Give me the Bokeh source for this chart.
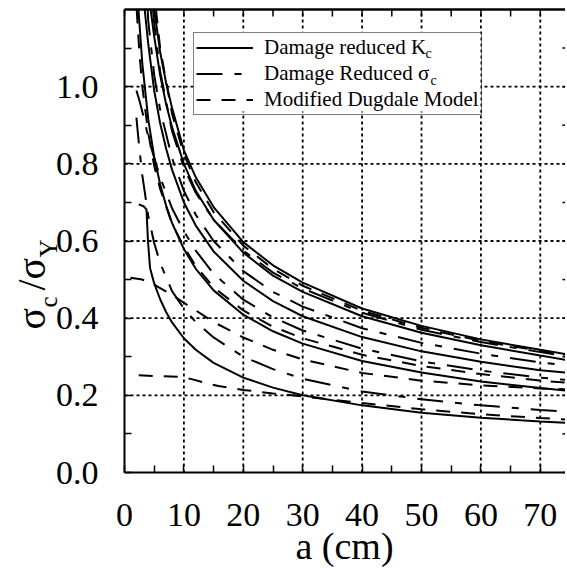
from bokeh.plotting import figure
from bokeh.models import (FixedTicker, PrintfTickFormatter, Legend, LegendItem,
                          Label, Range1d, LinearAxis, BoxAnnotation)
from bokeh.embed import file_html
from bokeh.resources import INLINE

# ---------------- data ----------------
Y_END = 1.2
X_TICKS = [0, 10, 20, 30, 40, 50, 60, 70]
X_MINOR = [5, 15, 25, 35, 45, 55, 65]
Y_TICKS = [0.0, 0.2, 0.4, 0.6, 0.8, 1.0]
Y_MINOR = [0.1, 0.3, 0.5, 0.7, 0.9, 1.1]

# Damage reduced Kc (solid)
kc_a_x = [5.0, 6, 7, 8, 10, 12, 15, 20, 25, 30, 40, 50, 60, 70, 75]
kc_a_y = [1.20, 1.09, 1.01, 0.945, 0.835, 0.765, 0.688, 0.597, 0.537, 0.492, 0.425, 0.38, 0.345, 0.318, 0.305]
kc_b_x = [4.4, 5, 6, 7, 8, 10, 12, 15, 20, 25, 30, 40, 50, 60, 70, 75]
kc_b_y = [1.20, 1.13, 1.03, 0.955, 0.895, 0.80, 0.73, 0.655, 0.57, 0.51, 0.468, 0.405, 0.362, 0.33, 0.303, 0.29]
kc_c_x = [3.4, 4, 5, 6, 7, 8, 10, 12, 15, 20, 25, 30, 40, 50, 60, 70, 75]
kc_c_y = [1.20, 1.11, 0.99, 0.905, 0.84, 0.785, 0.70, 0.64, 0.573, 0.497, 0.444, 0.405, 0.351, 0.314, 0.287, 0.265, 0.258]
kc_d_x = [2.35, 3, 4, 5, 6, 7, 8, 10, 12, 15, 20, 25, 30, 40, 50, 60, 70, 75]
kc_d_y = [1.20, 1.06, 0.915, 0.818, 0.747, 0.692, 0.647, 0.579, 0.528, 0.472, 0.409, 0.366, 0.334, 0.289, 0.259, 0.236, 0.219, 0.211]
kc_e_x = [2.4, 3.2, 3.7, 3.95, 4.3, 5, 6, 7, 8, 10, 12, 15, 20, 25, 30, 40, 50, 60, 70, 75]
kc_e_y = [0.695, 0.69, 0.682, 0.60, 0.53, 0.49, 0.449, 0.416, 0.389, 0.348, 0.318, 0.284, 0.246, 0.22, 0.20, 0.174, 0.155, 0.142, 0.132, 0.128]

# Damage Reduced sigma_c (long-short dash)
sc_a_x = [4.8, 5, 6, 8, 10, 12, 15, 20, 25, 30, 40, 50, 60, 70, 75]
sc_a_y = [1.20, 1.165, 1.04, 0.885, 0.79, 0.725, 0.655, 0.575, 0.518, 0.477, 0.414, 0.37, 0.338, 0.312, 0.30]
sc_b_x = [3.9, 4, 5, 6, 8, 10, 12, 15, 20, 25, 30, 40, 50, 60, 70, 75]
sc_b_y = [1.20, 1.17, 1.03, 0.94, 0.815, 0.73, 0.668, 0.60, 0.522, 0.468, 0.43, 0.374, 0.336, 0.308, 0.285, 0.277]
sc_c_x = [2.0, 2.5, 3, 4, 5, 6, 8, 10, 12, 15, 20, 25, 30, 40, 50, 60, 70, 75]
sc_c_y = [0.99, 0.965, 0.935, 0.87, 0.815, 0.765, 0.685, 0.625, 0.575, 0.515, 0.448, 0.402, 0.368, 0.321, 0.288, 0.264, 0.246, 0.239]
sc_d_x = [2.0, 2.5, 3, 4, 5, 6, 8, 10, 12, 15, 20, 25, 30, 40, 50, 60, 70, 75]
sc_d_y = [0.92, 0.84, 0.77, 0.665, 0.595, 0.543, 0.47, 0.425, 0.39, 0.35, 0.30, 0.268, 0.243, 0.21, 0.19, 0.174, 0.162, 0.157]

# Modified Dugdale Model (dashed)
md_a_x = [5.3, 6, 8, 10, 12, 15, 20, 25, 30, 40, 50, 60, 70, 75]
md_a_y = [1.20, 1.10, 0.93, 0.825, 0.752, 0.675, 0.588, 0.528, 0.484, 0.419, 0.375, 0.341, 0.315, 0.303]
md_b_x = [2.05, 2.5, 3, 4, 5, 6, 8, 10, 12, 15, 20, 25, 30, 40, 50, 60, 70, 75]
md_b_y = [1.20, 1.09, 1.0, 0.88, 0.795, 0.735, 0.645, 0.585, 0.535, 0.48, 0.42, 0.378, 0.348, 0.305, 0.276, 0.255, 0.238, 0.232]
md_c_x = [1.0, 3, 4.4, 6, 8, 10, 12, 15, 20, 25, 30, 40, 50, 60, 70, 75]
md_c_y = [0.505, 0.50, 0.492, 0.478, 0.46, 0.44, 0.42, 0.39, 0.35, 0.318, 0.293, 0.258, 0.238, 0.226, 0.218, 0.215]
md_d_x = [2.4, 5, 9.4, 11.3, 13.5, 15.8, 20, 25, 30, 40, 50, 60, 70, 75]
md_d_y = [0.252, 0.25, 0.248, 0.242, 0.233, 0.224, 0.214, 0.205, 0.197, 0.18, 0.164, 0.151, 0.141, 0.137]

LEGEND_LABELS = ["Damage reduced K", "Damage Reduced \u03c3", "Modified Dugdale Model"]
LEGEND_SUBS = ["c", "c"]
X_TITLE = "a (cm)"
Y_TITLE = [("\u03c3", "main"), ("c", "sub"), ("/\u03c3", "main"), ("Y", "sub")]

# ---------------- layout constants (pixels -> data mapping) ----------------
PX_X = 5.94          # px per x unit
PX_Y = 385.83        # px per y unit
W, H = 565, 568
X_LO = -124 / PX_X
X_HI = X_LO + W / PX_X
Y_HI = 472 / PX_Y
Y_LO = Y_HI - H / PX_Y
X_EDGE = 74.9        # where the original frame's right edge sits

SERIF = "Liberation Serif"
p = figure(width=W, height=H, x_range=Range1d(X_LO, X_HI), y_range=Range1d(Y_LO, Y_HI),
           x_axis_type=None, y_axis_type=None, output_backend="svg",
           toolbar_location=None, min_border=0)
p.outline_line_color = None

xt = FixedTicker(ticks=X_TICKS, minor_ticks=X_MINOR)
yt = FixedTicker(ticks=Y_TICKS, minor_ticks=Y_MINOR)

def style_axis(ax):
    ax.axis_line_color = "black"
    ax.axis_line_width = 2
    ax.major_tick_in = 7
    ax.major_tick_out = 0
    ax.minor_tick_in = 7
    ax.minor_tick_out = 0
    ax.major_tick_line_color = "black"
    ax.minor_tick_line_color = "black"
    ax.major_tick_line_width = 1.5
    ax.minor_tick_line_width = 1.5
    ax.major_label_text_font = SERIF
    ax.major_label_text_color = "black"
    ax.major_label_text_font_size = "34px"

# grid lines (dotted), limited to the data frame
GX = X_TICKS[1:]
GY = Y_TICKS[1:]
p.segment(x0=GX, y0=[0] * len(GX), x1=GX, y1=[Y_END] * len(GX),
          line_color="black", line_dash="3 3", line_width=1.8, level="underlay")
p.segment(x0=[0] * len(GY), y0=GY, x1=[X_EDGE] * len(GY), y1=GY,
          line_color="black", line_dash="3 3", line_width=1.8, level="underlay")

# white backing of the legend box (hides the grid behind the legend)
LEG_L, LEG_R = (194 - 125) / PX_X, (481 - 125) / PX_X
LEG_T, LEG_B = (473 - 32) / PX_Y, (473 - 112) / PX_Y
p.add_layout(BoxAnnotation(left=LEG_L, right=LEG_R, top=LEG_T, bottom=LEG_B,
                           fill_color="white", fill_alpha=1, line_color=None,
                           level="underlay"))

# top border, top ticks and right-edge ticks
p.segment(x0=[0], y0=[Y_END], x1=[X_EDGE], y1=[Y_END], line_color="black", line_width=2.5)
TICK_Y = 7 / PX_Y
TICK_X = 7 / PX_X
top_ticks = X_TICKS + X_MINOR
p.segment(x0=top_ticks, y0=[Y_END] * len(top_ticks), x1=top_ticks,
          y1=[Y_END - TICK_Y] * len(top_ticks), line_color="black", line_width=1.5)
right_ticks = Y_TICKS + Y_MINOR
p.segment(x0=[X_EDGE] * len(right_ticks), y0=right_ticks,
          x1=[X_EDGE - TICK_X] * len(right_ticks), y1=right_ticks,
          line_color="black", line_width=1.5)

LW = 2.0
SIG = "26 12 7 12"
DUG = "14 11"

r_kc = [p.line(x, y, line_color="black", line_width=LW)
        for x, y in [(kc_a_x, kc_a_y), (kc_b_x, kc_b_y), (kc_c_x, kc_c_y),
                     (kc_d_x, kc_d_y), (kc_e_x, kc_e_y)]]
r_sc = [p.line(x, y, line_color="black", line_width=LW, line_dash=SIG)
        for x, y in [(sc_a_x, sc_a_y), (sc_b_x, sc_b_y), (sc_c_x, sc_c_y), (sc_d_x, sc_d_y)]]
r_md = [p.line(x, y, line_color="black", line_width=LW, line_dash=DUG)
        for x, y in [(md_a_x, md_a_y), (md_b_x, md_b_y), (md_c_x, md_c_y), (md_d_x, md_d_y)]]

# axes through the origin (so their labels sit inside the frame area)
xa = LinearAxis(ticker=xt, fixed_location=0, bounds=(0, X_HI))
style_axis(xa)
xa.major_label_standoff = 31
p.add_layout(xa, "below")
ya = LinearAxis(ticker=yt, fixed_location=0, bounds=(0, Y_END),
                formatter=PrintfTickFormatter(format="%.1f"))
style_axis(ya)
ya.major_label_standoff = 26
p.add_layout(ya, "left")

legend = Legend(items=[LegendItem(label=LEGEND_LABELS[0], renderers=[r_kc[0]]),
                       LegendItem(label=LEGEND_LABELS[1], renderers=[r_sc[0]]),
                       LegendItem(label=LEGEND_LABELS[2], renderers=[r_md[0]])],
                location=(193, 453))
legend.label_text_font = SERIF
legend.label_text_font_size = "21px"
legend.label_text_color = "black"
legend.glyph_width = 57
legend.glyph_height = 21
legend.label_height = 21
legend.spacing = 1
legend.padding = 2
legend.margin = 0
legend.label_standoff = 11
legend.border_line_color = "black"
legend.border_line_width = 1.5
legend.background_fill_alpha = 0
p.add_layout(legend, "center")

# subscripts of the legend labels (screen px from the frame's lower-left corner)
for txt, sx, sy in [(LEGEND_SUBS[0], 425, 515), (LEGEND_SUBS[1], 430, 488)]:
    p.add_layout(Label(x=sx, y=sy, x_units="screen", y_units="screen", text=txt,
                       text_font=SERIF, text_font_size="14px", text_color="black",
                       text_baseline="middle", level="overlay"))

# axis titles
p.add_layout(Label(x=344, y=2, x_units="screen", y_units="screen", text=X_TITLE,
                   text_align="center", text_baseline="bottom", text_font=SERIF,
                   text_font_size="38px", text_color="black"))
pos = [(53, 239), (61, 261), (53, 278), (61, 311)]
for (txt, kind), (sx, sy) in zip(Y_TITLE, pos):
    p.add_layout(Label(x=sx, y=sy, x_units="screen", y_units="screen", text=txt,
                       angle=90, angle_units="deg", text_font=SERIF,
                       text_font_size="40px" if kind == "main" else "25px",
                       text_color="black"))

open("out.html", "w").write(file_html(p, INLINE))
